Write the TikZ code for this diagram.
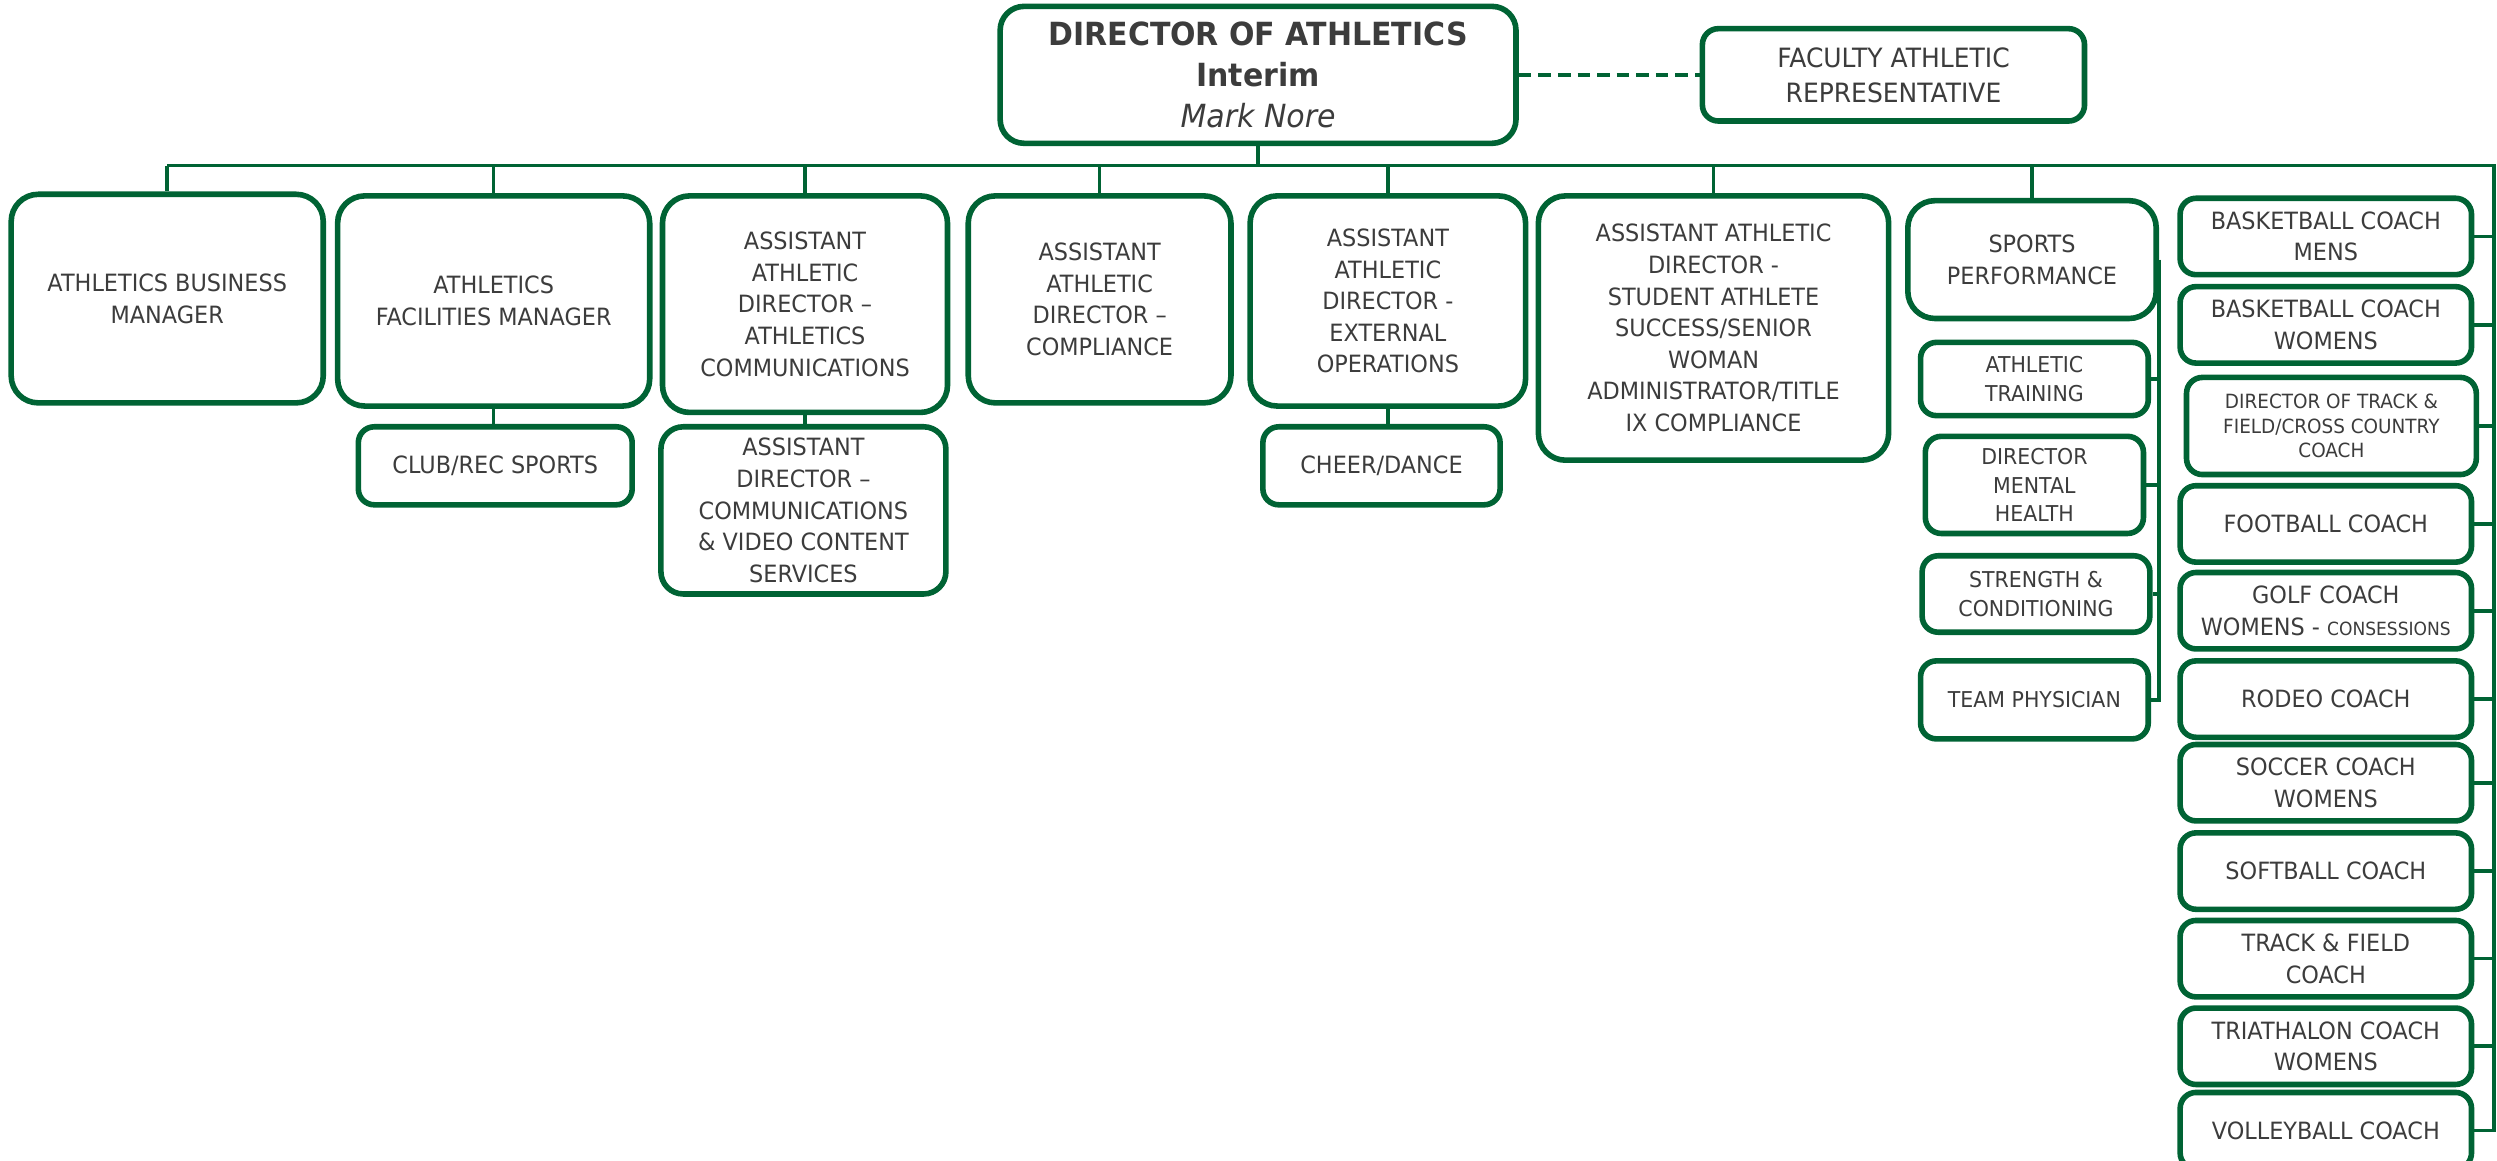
\documentclass[tikz,border=0pt]{standalone}
\usepackage{fontspec}
\setmainfont{DejaVu Sans}[FakeStretch=0.94]

\definecolor{ogreen}{RGB}{0,99,52}
\definecolor{otext}{RGB}{60,60,60}

\tikzset{
  box/.style={draw=ogreen, line width=2pt, fill=white, text=otext, align=center,
    inner sep=1pt, font=\fontsize{8.5}{11.3}\selectfont},
  bigbox/.style={box, rounded corners=0.34cm},
  smallbox/.style={box, rounded corners=0.2cm},
  subbox/.style={smallbox, font=\fontsize{7.8}{10.2}\selectfont},
  coachbox/.style={smallbox, minimum width=3.66cm, minimum height=0.96cm},
  link/.style={draw=ogreen, line width=1.3pt},
}

\begin{document}
\begin{tikzpicture}[x=0.02cm, y=-0.02cm]
  \useasboundingbox (0,0) rectangle (1568,729);

  % Top
  \node[bigbox, rounded corners=0.3cm, minimum width=6.48cm, minimum height=1.72cm,
    font=\fontsize{11.4}{14.8}\selectfont] (dir) at (790,47)
    {\textbf{DIRECTOR OF ATHLETICS}\\\textbf{Interim}\\\textit{Mark Nore}};
  \node[smallbox, minimum width=4.8cm, minimum height=1.16cm,
    font=\fontsize{9.5}{12.5}\selectfont] (far) at (1189,47)
    {FACULTY ATHLETIC\\REPRESENTATIVE};

  % First row
  \node[bigbox, minimum width=3.92cm, minimum height=2.62cm] (busmgr) at (105,187.5)
    {ATHLETICS BUSINESS\\MANAGER};
  \node[bigbox, minimum width=3.92cm, minimum height=2.64cm] (facmgr) at (310,189)
    {ATHLETICS\\FACILITIES MANAGER};
  \node[bigbox, minimum width=3.58cm, minimum height=2.72cm] (commad) at (505.5,191)
    {ASSISTANT\\ATHLETIC\\DIRECTOR –\\ATHLETICS\\COMMUNICATIONS};
  \node[bigbox, minimum width=3.30cm, minimum height=2.60cm] (compl) at (690.5,188)
    {ASSISTANT\\ATHLETIC\\DIRECTOR –\\COMPLIANCE};
  \node[bigbox, minimum width=3.46cm, minimum height=2.64cm] (extops) at (871.5,189)
    {ASSISTANT\\ATHLETIC\\DIRECTOR -\\EXTERNAL\\OPERATIONS};
  \node[bigbox, minimum width=4.40cm, minimum height=3.32cm] (studad) at (1076,206)
    {ASSISTANT ATHLETIC\\DIRECTOR -\\STUDENT ATHLETE\\SUCCESS/SENIOR\\WOMAN\\ADMINISTRATOR/TITLE\\IX COMPLIANCE};
  \node[bigbox, minimum width=3.12cm, minimum height=1.48cm] (sportp) at (1276,163)
    {SPORTS\\PERFORMANCE};

  % Second level
  \node[smallbox, minimum width=3.44cm, minimum height=0.98cm] (clubrec) at (311,292.5)
    {CLUB/REC SPORTS};
  \node[bigbox, rounded corners=0.28cm, minimum width=3.58cm, minimum height=2.10cm] (commvid) at (504.5,320.5)
    {ASSISTANT\\DIRECTOR –\\COMMUNICATIONS\\\& VIDEO CONTENT\\SERVICES};
  \node[smallbox, minimum width=2.98cm, minimum height=0.98cm] (cheer) at (867.5,292.5)
    {CHEER/DANCE};

  % Sports performance staff
  \node[subbox, minimum width=2.86cm, minimum height=0.92cm] (athtr) at (1277.5,238)
    {ATHLETIC\\TRAINING};
  \node[subbox, minimum width=2.74cm, minimum height=1.22cm] (mental) at (1277.5,304.5)
    {DIRECTOR\\MENTAL\\HEALTH};
  \node[subbox, minimum width=2.86cm, minimum height=0.96cm] (strength) at (1278.5,373)
    {STRENGTH \&\\CONDITIONING};
  \node[subbox, minimum width=2.86cm, minimum height=0.98cm] (physician) at (1277.5,439.5)
    {TEAM PHYSICIAN};

  % Coaches
  \node[coachbox] (bbmen) at (1460.5,148.5) {BASKETBALL COACH\\MENS};
  \node[coachbox] (bbwomen) at (1460.5,204) {BASKETBALL COACH\\WOMENS};
  \node[coachbox, minimum width=3.64cm, minimum height=1.22cm,
    font=\fontsize{7}{8.8}\selectfont] (trackdir) at (1464,267.5)
    {DIRECTOR OF TRACK \&\\FIELD/CROSS COUNTRY\\COACH};
  \node[coachbox] (football) at (1460.5,329) {FOOTBALL COACH};
  \node[coachbox] (golf) at (1460.5,383.5)
    {GOLF COACH\\WOMENS - {\fontsize{6.5}{8}\selectfont CONSESSIONS}};
  \node[coachbox] (rodeo) at (1460.5,439) {RODEO COACH};
  \node[coachbox] (soccer) at (1460.5,491.5) {SOCCER COACH\\WOMENS};
  \node[coachbox] (softball) at (1460.5,547) {SOFTBALL COACH};
  \node[coachbox] (trackfield) at (1460.5,602) {TRACK \& FIELD\\COACH};
  \node[coachbox] (tri) at (1460.5,657) {TRIATHALON COACH\\WOMENS};
  \node[coachbox] (volley) at (1460.5,710) {VOLLEYBALL COACH};

  % Lines
  \coordinate (bus) at (104,104);
  \coordinate (busR) at (1566,104);
  \draw[link, line width=1.5pt, dash pattern=on 4.5pt off 2.5pt] (dir.east) -- (far.west);
  \draw[link] (dir.south) -- (dir.south |- bus);
  \draw[link] (busmgr.north |- bus) -- (busR) -- (busR |- volley.east) -- (volley.east);
  \foreach \n in {busmgr,facmgr,commad,compl,extops,studad,sportp}
    \draw[link] (\n.north |- bus) -- (\n.north);
  \foreach \n in {bbmen,bbwomen,trackdir,football,golf,rodeo,soccer,softball,trackfield,tri}
    \draw[link] (\n.east) -- (\n.east -| busR);

  \draw[link] (facmgr.south) -- (facmgr.south |- clubrec.north);
  \draw[link] (commad.south) -- (commad.south |- commvid.north);
  \draw[link] (extops.south) -- (extops.south |- cheer.north);

  \draw[link, line width=1.6pt] (sportp.east) -- (sportp.east |- physician.east) -- (physician.east);
  \foreach \n in {athtr,mental,strength}
    \draw[link, line width=1.6pt] (\n.east) -- (\n.east -| sportp.east);
\end{tikzpicture}
\end{document}
